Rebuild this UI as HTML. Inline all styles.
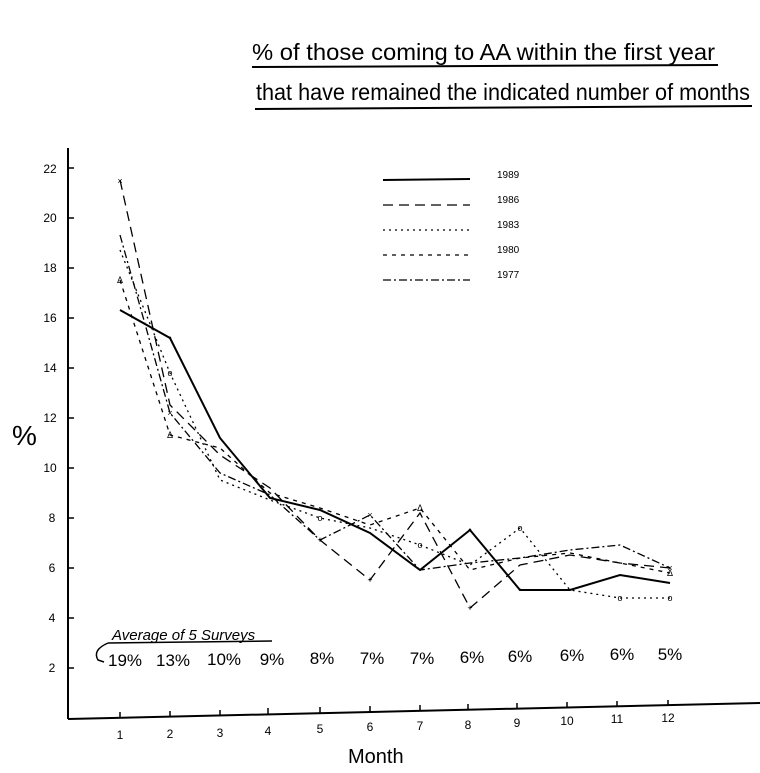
<!DOCTYPE html>
<html><head><meta charset="utf-8"><style>
html,body{margin:0;padding:0;background:#fff;}
svg{display:block;font-family:"Liberation Sans",sans-serif;}
.h{font-family:"Liberation Sans Narrow","Liberation Sans",sans-serif;fill:#000;}
</style></head><body>
<svg width="760" height="773" viewBox="0 0 760 773" xmlns="http://www.w3.org/2000/svg">
<rect width="760" height="773" fill="#fff"/>
<text class="h" x="252" y="60" font-size="23" textLength="463" lengthAdjust="spacingAndGlyphs">% of those coming to AA within the first year</text>
<line x1="252" y1="67" x2="718" y2="65" stroke="#000" stroke-width="2"/>
<text class="h" x="256" y="100" font-size="23" textLength="494" lengthAdjust="spacingAndGlyphs">that have remained the indicated number of months</text>
<line x1="255" y1="109" x2="752" y2="106" stroke="#000" stroke-width="2"/>
<g stroke="#000" stroke-width="2" fill="none">
<line x1="68" y1="148" x2="68" y2="719"/>
<line x1="68" y1="719" x2="760" y2="703"/>
</g>
<g stroke="#000" stroke-width="1.5">
<line x1="68" y1="168" x2="74" y2="168"/><line x1="68" y1="218" x2="74" y2="218"/>
<line x1="68" y1="268" x2="74" y2="268"/><line x1="68" y1="318" x2="74" y2="318"/>
<line x1="68" y1="368" x2="74" y2="368"/><line x1="68" y1="418" x2="74" y2="418"/>
<line x1="68" y1="468" x2="74" y2="468"/><line x1="68" y1="518" x2="74" y2="518"/>
<line x1="68" y1="568" x2="74" y2="568"/><line x1="68" y1="618" x2="74" y2="618"/>
<line x1="68" y1="668" x2="74" y2="668"/>
<line x1="120" y1="718" x2="120" y2="712"/><line x1="170" y1="717" x2="170" y2="711"/>
<line x1="220" y1="716" x2="220" y2="710"/><line x1="268" y1="714" x2="268" y2="708"/>
<line x1="320" y1="713" x2="320" y2="707"/><line x1="370" y1="712" x2="370" y2="706"/>
<line x1="420" y1="711" x2="420" y2="705"/><line x1="468" y1="710" x2="468" y2="704"/>
<line x1="517" y1="709" x2="517" y2="703"/><line x1="567" y1="708" x2="567" y2="702"/>
<line x1="617" y1="707" x2="617" y2="701"/><line x1="668" y1="706" x2="668" y2="700"/>
</g>
<g class="h" font-size="12" text-anchor="middle">
<text x="50" y="173">22</text><text x="50" y="222">20</text><text x="50" y="272">18</text>
<text x="50" y="322">16</text><text x="50" y="372">14</text><text x="50" y="422">12</text>
<text x="50" y="472">10</text><text x="52" y="522">8</text><text x="52" y="572">6</text>
<text x="52" y="622">4</text><text x="52" y="672">2</text>
<text x="120" y="739">1</text><text x="170" y="738">2</text><text x="220" y="737">3</text>
<text x="268" y="735">4</text><text x="320" y="733">5</text><text x="370" y="731">6</text>
<text x="420" y="730">7</text><text x="468" y="729">8</text><text x="517" y="727">9</text>
<text x="567" y="725">10</text><text x="617" y="723">11</text><text x="668" y="722">12</text>
</g>
<text class="h" x="12" y="445" font-size="28">%</text>
<text class="h" x="348" y="763" font-size="20">Month</text>
<g fill="none" stroke="#000">
<polyline stroke-width="2" points="120,310 170,338 220,438 270,498 320,510 370,533 420,570 470,530 520,590 570,590 620,575 670,583"/>
<polyline stroke-width="1.3" stroke-dasharray="10,6" points="120,180 170,405 220,455 270,488 320,540 370,580 420,513 470,608 520,565 570,555 620,563 670,568"/>
<polyline stroke-width="1.3" stroke-dasharray="2,4" points="120,250 170,373 220,480 270,500 320,518 370,528 420,545 470,565 520,528 570,590 620,598 670,598"/>
<polyline stroke-width="1.3" stroke-dasharray="4,5" points="120,280 170,435 220,448 270,493 320,508 370,525 420,508 470,570 520,558 570,553 620,563 670,573"/>
<polyline stroke-width="1.3" stroke-dasharray="8,3,2,3" points="120,235 170,413 220,473 270,495 320,540 370,515 420,570 470,563 520,558 570,550 620,545 670,568"/>
</g>
<g class="h" font-size="9" text-anchor="middle">
<text x="170" y="341">•</text><text x="520" y="593">•</text><text x="470" y="533">•</text>
<text x="120" y="184">×</text><text x="170" y="416">×</text><text x="370" y="518">×</text><text x="670" y="571">×</text>
<text x="170" y="376">o</text><text x="320" y="521">o</text><text x="420" y="548">o</text><text x="520" y="531">o</text><text x="620" y="601">o</text><text x="670" y="601">o</text>
<text x="120" y="283">Δ</text><text x="170" y="438">Δ</text><text x="420" y="511">Δ</text><text x="670" y="576">Δ</text>
<text x="370" y="583">+</text><text x="470" y="611">+</text><text x="320" y="543">+</text>
</g>
<g fill="none" stroke="#000">
<line x1="383" y1="180" x2="470" y2="179" stroke-width="2"/>
<line x1="383" y1="205" x2="470" y2="205" stroke-width="1.3" stroke-dasharray="10,6"/>
<line x1="383" y1="230" x2="470" y2="230" stroke-width="1.3" stroke-dasharray="2,4"/>
<line x1="383" y1="255" x2="470" y2="255" stroke-width="1.3" stroke-dasharray="4,5"/>
<line x1="383" y1="280" x2="470" y2="280" stroke-width="1.3" stroke-dasharray="8,3,2,3"/>
</g>
<g class="h" font-size="10">
<text x="497" y="178">1989</text><text x="497" y="203">1986</text><text x="497" y="228">1983</text>
<text x="497" y="253">1980</text><text x="497" y="278">1977</text>
</g>
<text class="h" x="112" y="640" font-size="15" font-style="italic">Average of 5 Surveys</text>
<line x1="108" y1="643" x2="272" y2="641" stroke="#000" stroke-width="1.5"/>
<path d="M108,643 Q92,650 98,660 L104,662" fill="none" stroke="#000" stroke-width="1.5"/>
<g class="h" font-size="17" text-anchor="middle">
<text x="125" y="666">19%</text><text x="173" y="666">13%</text><text x="224" y="665">10%</text>
<text x="272" y="665">9%</text><text x="322" y="664">8%</text><text x="372" y="664">7%</text>
<text x="422" y="664">7%</text><text x="472" y="663">6%</text><text x="520" y="662">6%</text>
<text x="572" y="661">6%</text><text x="622" y="660">6%</text><text x="670" y="660">5%</text>
</g>
</svg>
</body></html>
